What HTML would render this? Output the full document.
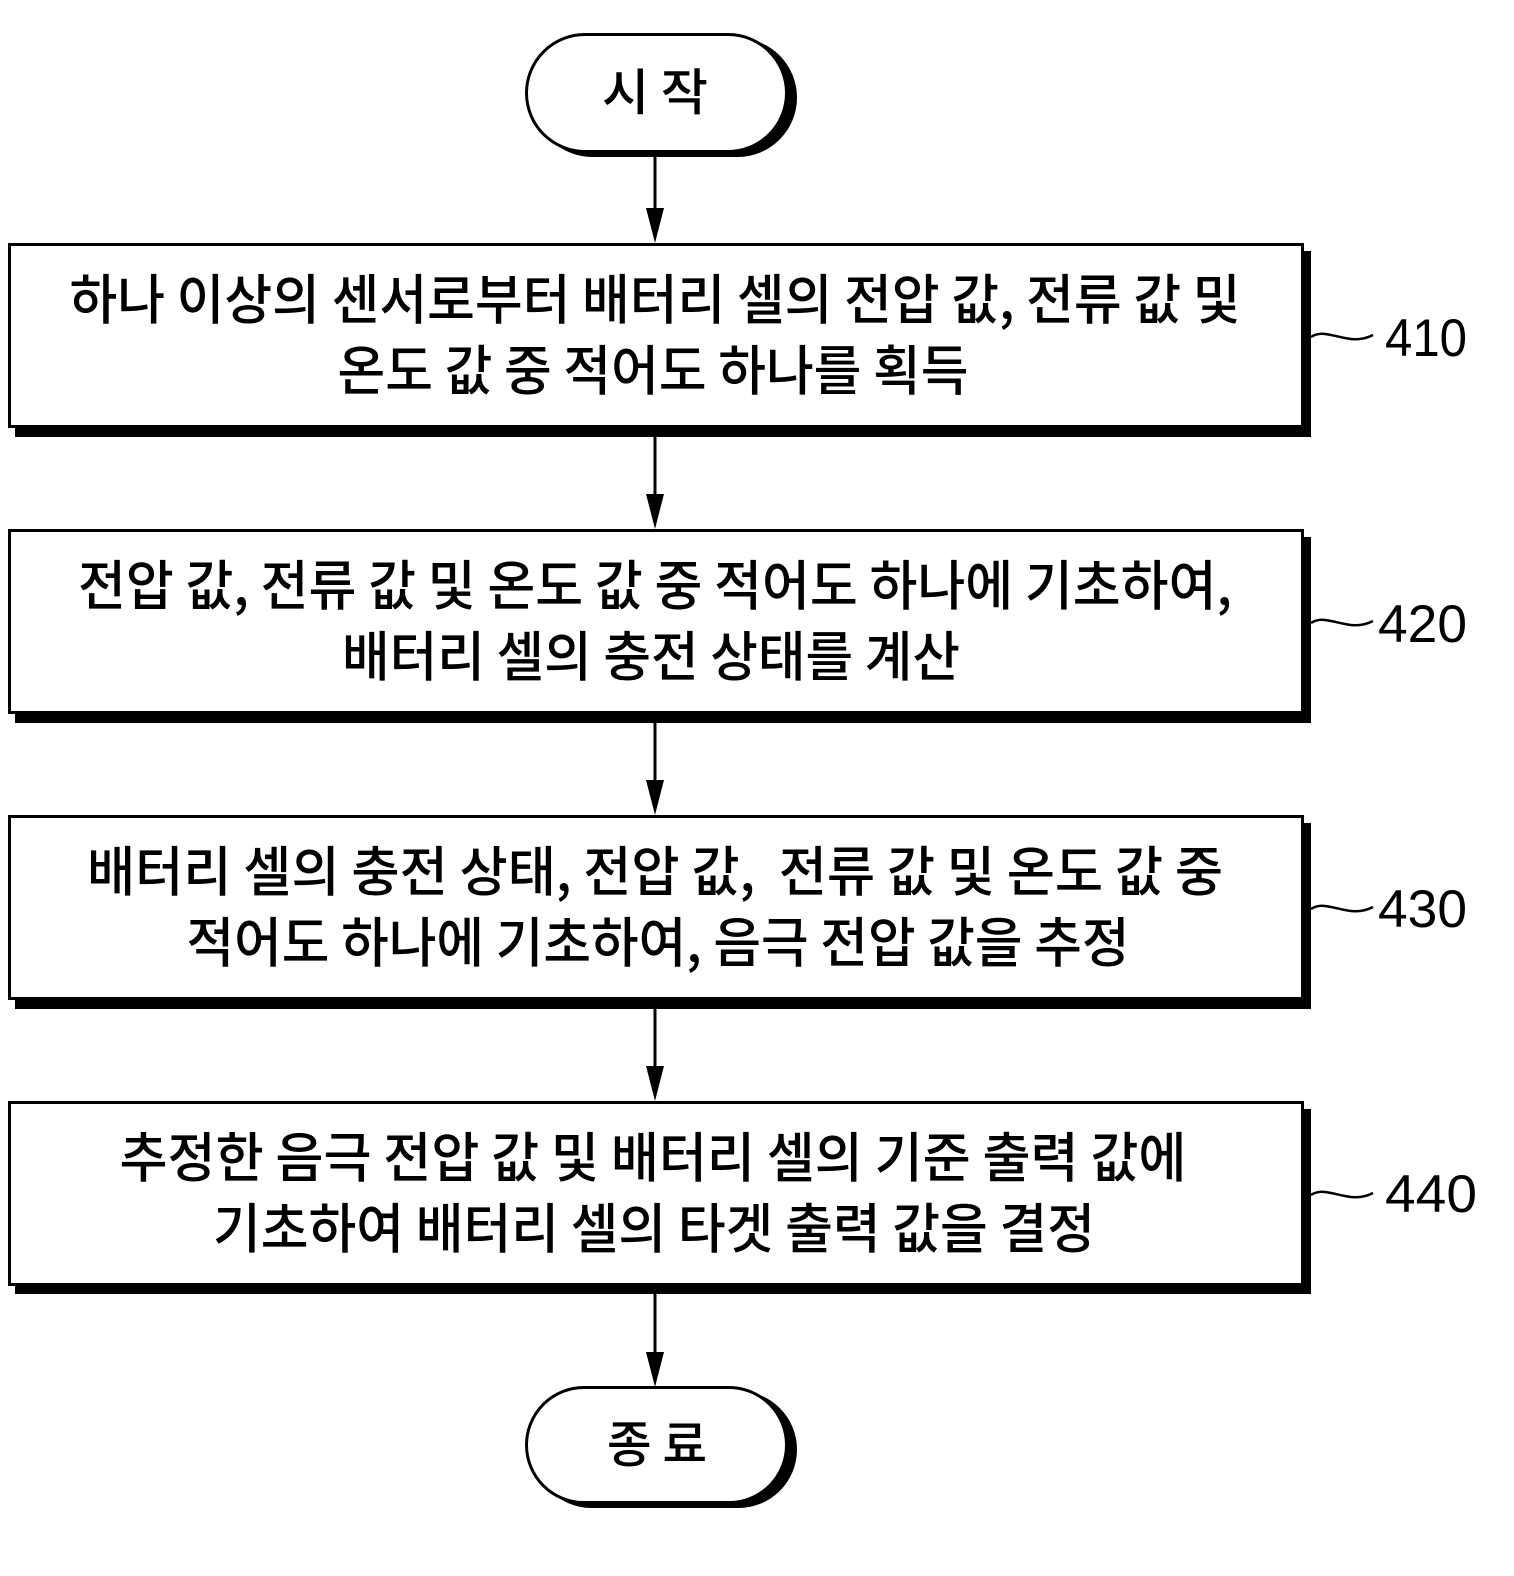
<!DOCTYPE html>
<html>
<head>
<meta charset="utf-8">
<style>
  html, body { margin: 0; padding: 0; background: #fff; }
  svg { display: block; }
  text { font-family: "Liberation Sans", "Noto Sans CJK KR", "NanumGothic", sans-serif; fill: #000; }
  .k { font-family: "Noto Sans CJK KR", "NanumGothic", sans-serif; font-size: 54px; font-weight: 500; }
  .t { font-family: "Noto Sans CJK KR", "NanumGothic", sans-serif; font-size: 50px; font-weight: 500; }
  .n { font-family: "Liberation Sans", sans-serif; font-size: 53px; }
</style>
</head>
<body>
<svg width="1514" height="1576" viewBox="0 0 1514 1576" xmlns="http://www.w3.org/2000/svg">
  <rect x="0" y="0" width="1514" height="1576" fill="#fff"/>

  <!-- Start terminal -->
  <rect x="533" y="38" width="264" height="119" rx="59.5" ry="59.5" fill="#000"/>
  <rect x="526.5" y="34.5" width="260" height="117" rx="58.5" ry="58.5" fill="#fff" stroke="#000" stroke-width="3"/>
  <text class="t" x="655" y="110" text-anchor="middle" textLength="106" lengthAdjust="spacingAndGlyphs">시 작</text>

  <!-- Arrow start -> box1 -->
  <line x1="655" y1="155" x2="655" y2="215" stroke="#000" stroke-width="3"/>
  <polygon points="646,208 664,208 655,243" fill="#000"/>

  <!-- Box 1 -->
  <rect x="15" y="251" width="1296" height="186" fill="#000"/>
  <rect x="9.5" y="244.5" width="1293" height="182" fill="#fff" stroke="#000" stroke-width="3"/>
  <text class="k" x="655" y="319" text-anchor="middle" textLength="1171" lengthAdjust="spacingAndGlyphs">하나 이상의 센서로부터 배터리 셀의 전압 값, 전류 값 및</text>
  <text class="k" x="653" y="390" text-anchor="middle" textLength="631" lengthAdjust="spacingAndGlyphs">온도 값 중 적어도 하나를 획득</text>
  <path d="M1311,337 C1328,326 1348,348 1373,335" fill="none" stroke="#000" stroke-width="2.5"/>
  <text class="n" x="1385" y="356" textLength="82" lengthAdjust="spacingAndGlyphs">410</text>

  <!-- Arrow box1 -> box2 -->
  <line x1="655" y1="436" x2="655" y2="500" stroke="#000" stroke-width="3"/>
  <polygon points="646,494 664,494 655,529" fill="#000"/>

  <!-- Box 2 -->
  <rect x="15" y="537" width="1296" height="186" fill="#000"/>
  <rect x="9.5" y="530.5" width="1293" height="182" fill="#fff" stroke="#000" stroke-width="3"/>
  <text class="k" x="655" y="605" text-anchor="middle" textLength="1154" lengthAdjust="spacingAndGlyphs">전압 값, 전류 값 및 온도 값 중 적어도 하나에 기초하여,</text>
  <text class="k" x="651" y="676" text-anchor="middle" textLength="618" lengthAdjust="spacingAndGlyphs">배터리 셀의 충전 상태를 계산</text>
  <path d="M1311,623 C1328,612 1348,634 1373,621" fill="none" stroke="#000" stroke-width="2.5"/>
  <text class="n" x="1378" y="642" textLength="89" lengthAdjust="spacingAndGlyphs">420</text>

  <!-- Arrow box2 -> box3 -->
  <line x1="655" y1="722" x2="655" y2="786" stroke="#000" stroke-width="3"/>
  <polygon points="646,780 664,780 655,815" fill="#000"/>

  <!-- Box 3 -->
  <rect x="15" y="823" width="1296" height="186" fill="#000"/>
  <rect x="9.5" y="816.5" width="1293" height="182" fill="#fff" stroke="#000" stroke-width="3"/>
  <text class="k" x="655" y="891" text-anchor="middle" textLength="1136" lengthAdjust="spacingAndGlyphs">배터리 셀의 충전 상태, 전압 값,&#160; 전류 값 및 온도 값 중</text>
  <text class="k" x="658" y="962" text-anchor="middle" textLength="943" lengthAdjust="spacingAndGlyphs">적어도 하나에 기초하여, 음극 전압 값을 추정</text>
  <path d="M1311,909 C1328,898 1348,920 1373,907" fill="none" stroke="#000" stroke-width="2.5"/>
  <text class="n" x="1378" y="927" textLength="89" lengthAdjust="spacingAndGlyphs">430</text>

  <!-- Arrow box3 -> box4 -->
  <line x1="655" y1="1008" x2="655" y2="1072" stroke="#000" stroke-width="3"/>
  <polygon points="646,1066 664,1066 655,1101" fill="#000"/>

  <!-- Box 4 -->
  <rect x="15" y="1109" width="1296" height="185" fill="#000"/>
  <rect x="9.5" y="1102.5" width="1293" height="182" fill="#fff" stroke="#000" stroke-width="3"/>
  <text class="k" x="653" y="1177" text-anchor="middle" textLength="1067" lengthAdjust="spacingAndGlyphs">추정한 음극 전압 값 및 배터리 셀의 기준 출력 값에</text>
  <text class="k" x="654" y="1248" text-anchor="middle" textLength="882" lengthAdjust="spacingAndGlyphs">기초하여 배터리 셀의 타겟 출력 값을 결정</text>
  <path d="M1311,1195 C1328,1184 1348,1206 1373,1193" fill="none" stroke="#000" stroke-width="2.5"/>
  <text class="n" x="1385" y="1212" textLength="92" lengthAdjust="spacingAndGlyphs">440</text>

  <!-- Arrow box4 -> end -->
  <line x1="655" y1="1293" x2="655" y2="1358" stroke="#000" stroke-width="3"/>
  <polygon points="646,1352 664,1352 655,1387" fill="#000"/>

  <!-- End terminal -->
  <rect x="533" y="1391" width="264" height="117" rx="58.5" ry="58.5" fill="#000"/>
  <rect x="526.5" y="1387.5" width="260" height="115" rx="57.5" ry="57.5" fill="#fff" stroke="#000" stroke-width="3"/>
  <text class="t" x="657" y="1462" text-anchor="middle" textLength="100" lengthAdjust="spacingAndGlyphs">종 료</text>
</svg>
</body>
</html>
